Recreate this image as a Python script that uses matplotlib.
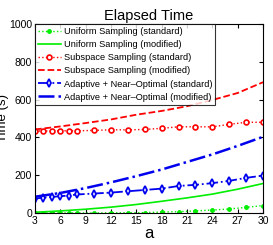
import matplotlib
matplotlib.use("Agg")
import matplotlib.pyplot as plt

plt.rcParams['font.family'] = ['Liberation Sans', 'DejaVu Sans']

# x values with markers (standard runs)
a_std = [3, 4, 5, 6, 7, 8, 10, 12, 14, 16, 18, 20, 22, 24, 26, 28, 30]
uniform_std = [0, 0, 0, 0, 0, 0, 0, 1, 1, 2, 5, 7, 11, 16, 21, 30, 39]
subspace_std = [435, 433, 435, 435, 435, 435, 437, 440, 440, 442, 448, 456, 456, 456, 469, 480, 480]
adaptive_std = [76, 82, 85, 89, 92, 98, 103, 108, 115, 122, 129, 143, 149, 158, 170, 186, 198]

# modified runs (smooth curves)
a_mod = [3, 6, 9, 12, 15, 18, 21, 24, 27, 30]
uniform_mod = [4, 11, 20, 31, 45, 62, 80, 100, 126, 156]
subspace_mod = [442, 458, 476, 495, 520, 540, 565, 598, 635, 692]
adaptive_mod = [86, 106, 132, 162, 195, 230, 270, 310, 355, 403]

fig = plt.figure(figsize=(2.73, 2.45), dpi=100)
ax = fig.add_axes([35 / 273, 1 - 213 / 245, 228 / 273, 189 / 245])

ax.plot(a_std, uniform_std, ':', color='#00ee00', marker='.', markersize=5, lw=1,
        label='Uniform Sampling (standard)')
ax.plot(a_mod, uniform_mod, '-', color='#00ee00', lw=1.2,
        label='Uniform Sampling (modified)')
ax.plot(a_std, subspace_std, ':', color='red', marker='o', markersize=3.5,
        markerfacecolor='white', markeredgewidth=1.2, lw=1,
        label='Subspace Sampling (standard)')
ax.plot(a_mod, subspace_mod, '--', color='red', lw=1.3,
        label='Subspace Sampling (modified)')
ax.plot(a_std, adaptive_std, '-.', color='#0000ee', marker='d', markersize=4,
        markerfacecolor='white', markeredgewidth=1.3, lw=1.3,
        label='Adaptive + Near\u2013Optimal (standard)')
ax.plot(a_mod, adaptive_mod, '-.', color='#0000ee', lw=1.8,
        label='Adaptive + Near\u2013Optimal (modified)')

ax.set_xlim(3, 30)
ax.set_ylim(0, 1000)
ax.set_xticks(range(3, 31, 3))
ax.set_yticks(range(0, 1001, 200))
ax.tick_params(direction='in', top=True, right=True, labelsize=7.5, length=3, pad=2)
ax.set_title('Elapsed Time', fontsize=10.5, pad=3)
ax.set_xlabel('a', fontsize=12, labelpad=0)
ax.set_ylabel('Time (s)', fontsize=9.5)
ax.yaxis.set_label_coords(-0.115, 0.5)

leg = ax.legend(loc='upper left', fontsize=6.7, frameon=True, fancybox=False,
                borderaxespad=0, handlelength=2.5, labelspacing=0.45,
                borderpad=0.3, handletextpad=0.3)
leg.get_frame().set_edgecolor('black')
leg.get_frame().set_linewidth(0.8)

fig.savefig('out.png', dpi=100)
